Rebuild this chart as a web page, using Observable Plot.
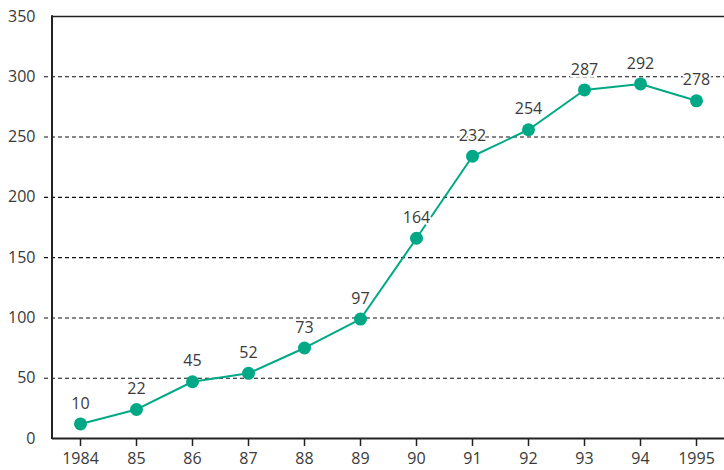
<!DOCTYPE html>
<html>
<head>
<meta charset="utf-8">
<script src="https://cdn.jsdelivr.net/npm/d3@7"></script>
<script src="https://cdn.jsdelivr.net/npm/@observablehq/plot@0.6"></script>
<style>
  html, body { margin: 0; padding: 0; background: #fff; }
  svg { display: block; }
</style>
</head>
<body>
<div id="chart"></div>
<script>
const years = ["1984", "85", "86", "87", "88", "89", "90", "91", "92", "93", "94", "1995"];
const values = [10, 22, 45, 52, 73, 97, 164, 232, 254, 287, 292, 278];
const yTicks = [0, 50, 100, 150, 200, 250, 300, 350];
const gridValues = [50, 100, 150, 200, 250, 300];

const data = years.map((year, i) => ({year, value: values[i]}));
const teal = "#00a886";
const font = "'Open Sans', sans-serif";

const chart = Plot.plot({
  width: 724,
  height: 470,
  marginLeft: 52,
  marginRight: 0,
  marginTop: 16,
  marginBottom: 32,
  style: {fontFamily: font, fontSize: "16px", color: "#3a3a3a", background: "#fff"},
  x: {type: "band", domain: years, padding: 0, label: null},
  y: {domain: [0, 350], label: null},
  marks: [
    Plot.ruleY(gridValues, {stroke: "#111", strokeWidth: 1.1, strokeDasharray: "4,3", insetLeft: -8}),
    Plot.ruleY([350], {stroke: "#222", strokeWidth: 1.5}),
    Plot.ruleY([0], {stroke: "#222", strokeWidth: 2}),
    Plot.axisY(yTicks, {tickSize: 0, tickPadding: 17, fontSize: 16, fill: "#3a3a3a", fontFamily: font}),
    Plot.axisX(years, {tickSize: 8, tickPadding: 6, fontSize: 16, fill: "#3a3a3a", stroke: "#222", strokeWidth: 1.5, fontFamily: font}),
    Plot.line(data, {x: "year", y: "value", stroke: teal, strokeWidth: 2, dy: -2.5}),
    Plot.dot(data, {x: "year", y: "value", r: 6.5, fill: teal, stroke: "none", dy: -2.5}),
    Plot.text(data, {x: "year", y: "value", text: d => String(d.value), dy: -23, fontSize: 16, fill: "#3a3a3a", stroke: "white", strokeWidth: 4, fontFamily: font})
  ]
});
document.getElementById("chart").appendChild(chart);
const svg = d3.select(chart);
// left axis line
svg.append("line").attr("x1", 52).attr("x2", 52).attr("y1", 15.3).attr("y2", 439).attr("stroke", "#222").attr("stroke-width", 2);
</script>
</body>
</html>
